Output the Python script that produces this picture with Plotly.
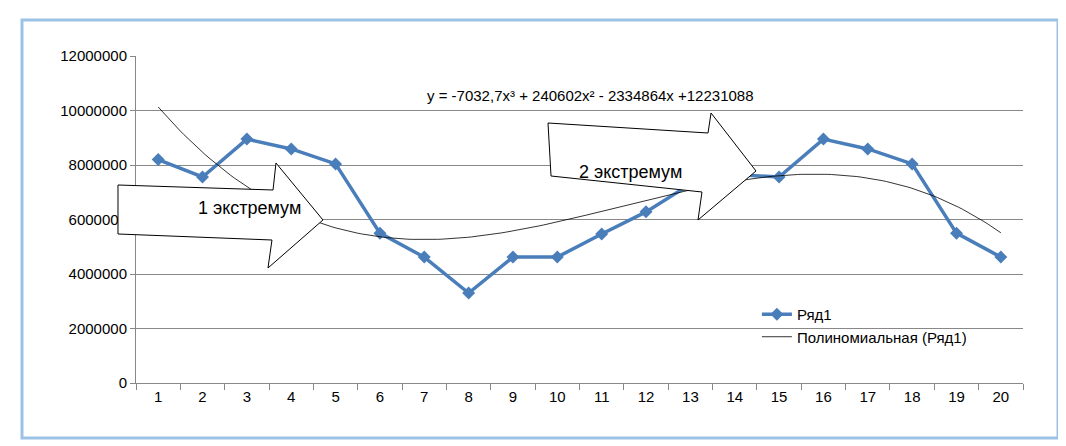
import numpy as np
import plotly.graph_objects as go

x_vals = list(range(1, 21))
series_vals = [8200000, 7560000, 8950000, 8590000, 8040000, 5500000, 4620000, 3300000,
               4620000, 4620000, 5470000, 6280000, 7300000, 7650000, 7560000, 8950000,
               8590000, 8040000, 5500000, 4620000]
y_ticks = [0, 2000000, 4000000, 6000000, 8000000, 10000000, 12000000]
# trendline coefficients as printed on the chart
trend_coef = [-7032.7, 240602, -2334864, 12231088]

xt = np.linspace(1, 20, 200)
yt = np.polyval(trend_coef, xt)

W, L, T, B = 887, 128, 48, 375
def px(x, y):
    return (x - L) / W, (B - y) / (B - T)

def arrow(pts):
    p = [px(a, b) for a, b in pts]
    return "M " + " L ".join(f"{a:.4f},{b:.4f}" for a, b in p) + " Z"

fig = go.Figure()
fig.add_trace(go.Scatter(x=x_vals, y=series_vals, mode="lines+markers", name="Ряд1",
                         line=dict(color="#4a7ebb", width=3.5),
                         marker=dict(symbol="diamond", size=10, color="#4a7ebb")))
fig.add_trace(go.Scatter(x=xt, y=yt, mode="lines", name="Полиномиальная (Ряд1)",
                         line=dict(color="black", width=0.8)))

a1 = [(110, 177), (265, 182), (268, 155), (315, 212), (260, 260), (264, 232), (110, 226)]
a2 = [(540, 115), (700, 125), (703, 105), (748, 163), (690, 212), (694, 184), (543, 168)]
for a in (a1, a2):
    fig.add_shape(type="path", path=arrow(a), xref="paper", yref="paper",
                  fillcolor="white", line=dict(color="black", width=1), layer="above")

x0, y0 = px(14, 430)
x1, y1 = px(1050, 12)
fig.add_shape(type="rect", xref="paper", yref="paper", x0=x0, y0=y0, x1=x1, y1=y1,
              line=dict(color="#9cc3e6", width=3), layer="below")

for txt, (ax, ay), sz in [("1 экстремум", (188, 200), 18), ("2 экстремум", (622, 152), 18),
                          ("y = -7032,7x³ + 240602x² - 2334864x +12231088", (582, 77), 15)]:
    xa, ya = px(ax, ay)
    fig.add_annotation(x=xa, y=ya, xref="paper", yref="paper", text=txt, showarrow=False,
                       font=dict(size=sz, color="black"))

fig.update_layout(
    width=1066, height=446, margin=dict(l=L, r=1066 - L - W, t=T, b=446 - B),
    paper_bgcolor="white", plot_bgcolor="white",
    font=dict(family="Liberation Sans, Arial", size=15, color="black"),
    legend=dict(x=0.7, y=0.26, xanchor="left", yanchor="top", bgcolor="rgba(255,255,255,0)",
                font=dict(size=15), tracegroupgap=8),
    xaxis=dict(range=[0.5, 20.5], tickvals=x_vals, showgrid=False, zeroline=False,
               showline=True, linecolor="#888", ticks="", automargin=False,
               minor=dict(tick0=0.5, dtick=1, ticks="outside", ticklen=6, tickcolor="#888")),
    yaxis=dict(range=[0, 12000000], tickvals=y_ticks, tickformat="d", gridcolor="#888",
               showline=True, linecolor="#888", zeroline=False, ticks="outside",
               ticklen=5, tickcolor="#888", automargin=False),
)
fig.write_html("out.html")
